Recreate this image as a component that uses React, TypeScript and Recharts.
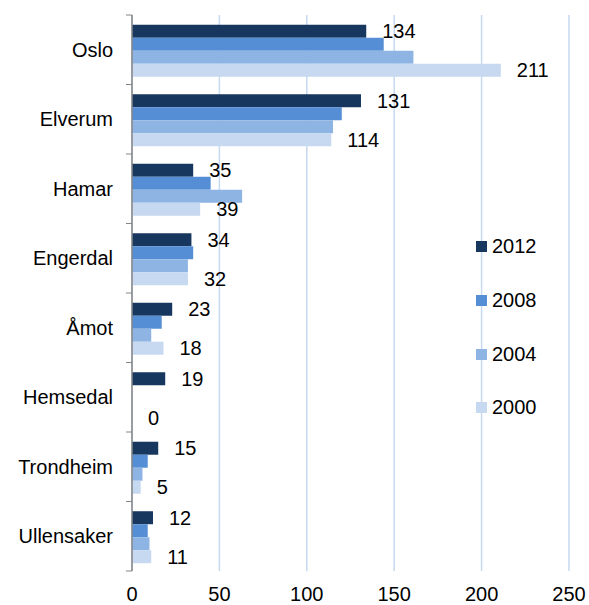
import { BarChart, Bar, XAxis, YAxis, CartesianGrid, LabelList } from "recharts";

const cities = ["Oslo", "Elverum", "Hamar", "Engerdal", "Åmot", "Hemsedal", "Trondheim", "Ullensaker"];
const years = ["2012", "2008", "2004", "2000"];
const v2012 = [134, 131, 35, 34, 23, 19, 15, 12];
const v2008 = [144, 120, 45, 35, 17, 0, 9, 9];
const v2004 = [161, 115, 63, 32, 11, 0, 6, 10];
const v2000 = [211, 114, 39, 32, 18, 0, 5, 11];
const xTicks = [0, 50, 100, 150, 200, 250];

const data = cities.map((c, i) => ({
  city: c,
  "2012": v2012[i],
  "2008": v2008[i],
  "2004": v2004[i],
  "2000": v2000[i],
}));

const FONT = "'Liberation Sans', Arial, sans-serif";
const AXIS_GREY = "#868686";
const GRID = "#C6D9F1";

const COLORS: Record<string, string> = {
  "2012": "#17375E",
  "2008": "#558ED5",
  "2004": "#8EB4E3",
  "2000": "#C6D9F1",
};

// category tick: label plus small tick marks at band edges
function CityTick(props: any) {
  const { x, y, payload, index, visibleTicksCount } = props;
  const half = payload?.offset ?? 0;
  const axisX = x + 19;
  const isLast = index === (visibleTicksCount ?? cities.length) - 1;
  return (
    <g>
      <text x={x} y={y} dy={7} textAnchor="end" fontSize={20} fontFamily={FONT} fill="#000">
        {payload.value}
      </text>
      <line x1={axisX - 6} x2={axisX} y1={y - half} y2={y - half} stroke={AXIS_GREY} />
      {isLast && <line x1={axisX - 6} x2={axisX} y1={y + half} y2={y + half} stroke={AXIS_GREY} />}
    </g>
  );
}

// legend drawn as plain html so it doesn't shrink the plot area
function LegendBox() {
  return (
    <div style={{ position: "absolute", left: 476, top: 220, fontFamily: FONT, fontSize: 20 }}>
      {years.map((y) => (
        <div key={y} style={{ display: "flex", alignItems: "center", height: 53.7 }}>
          <span style={{ width: 11, height: 11, background: COLORS[y], display: "inline-block", marginRight: 5 }} />
          <span style={{ color: "#000" }}>{y}</span>
        </div>
      ))}
    </div>
  );
}

export default function App() {
  return (
    <div style={{ position: "absolute", left: 0, top: 0, width: 589, height: 605, background: "#fff" }}>
      <BarChart
        width={589}
        height={605}
        data={data}
        layout="vertical"
        margin={{ top: 15, right: 20, bottom: 0, left: 0 }}
        barCategoryGap="14%"
        barGap={0}
      >
        <CartesianGrid horizontal={false} stroke={GRID} strokeWidth={1.5} />
        <XAxis
          type="number"
          domain={[0, 250]}
          ticks={xTicks}
          axisLine={false}
          tickLine={false}
          height={34}
          tickMargin={10}
          tick={{ fontSize: 20, fill: "#000", fontFamily: FONT }}
        />
        <YAxis
          type="category"
          dataKey="city"
          width={132}
          axisLine={{ stroke: AXIS_GREY, strokeWidth: 1.5 }}
          tickLine={false}
          tickMargin={13}
          tick={<CityTick />}
          interval={0}
        />
        <Bar dataKey="2012" fill={COLORS["2012"]} isAnimationActive={false}>
          <LabelList dataKey="2012" position="right" offset={16} fill="#000" fontSize={20} fontFamily={FONT} />
        </Bar>
        <Bar dataKey="2008" fill={COLORS["2008"]} isAnimationActive={false} />
        <Bar dataKey="2004" fill={COLORS["2004"]} isAnimationActive={false} />
        <Bar dataKey="2000" fill={COLORS["2000"]} minPointSize={0.01} isAnimationActive={false}>
          <LabelList dataKey="2000" position="right" offset={16} fill="#000" fontSize={20} fontFamily={FONT} />
        </Bar>
      </BarChart>
      <LegendBox />
    </div>
  );
}
